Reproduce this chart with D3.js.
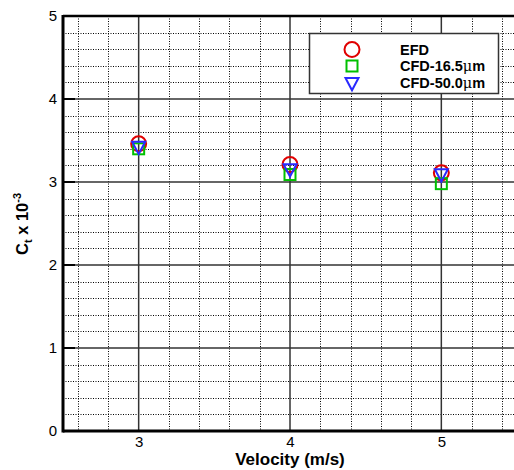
<!DOCTYPE html>
<html>
<head>
<meta charset="utf-8">
<script src="https://cdn.jsdelivr.net/npm/d3@7"></script>
<style>
  body { margin: 0; background: #fff; }
  svg { display: block; font-family: Arial, "Liberation Sans", sans-serif; }
</style>
</head>
<body>
<div id="chart"></div>
<script>
const velocity = [3, 4, 5]
const efd = [3.46, 3.21, 3.11]
const cfd165 = [3.40, 3.09, 2.98]
const cfd500 = [3.43, 3.16, 3.10]
const xTicks = [3, 4, 5]
const yTicks = [0, 1, 2, 3, 4, 5]
const seriesNames = ["EFD", "CFD-16.5", "CFD-50.0"]

const svg_width = 514, svg_height = 470
const margin = { left: 63, top: 16, right: -3, bottom: 39 }
const width = svg_width - margin.left - margin.right
const height = svg_height - margin.top - margin.bottom

const svg = d3.select("#chart").append("svg")
    .attr("width", svg_width)
    .attr("height", svg_height)

const g = svg.append("g")
    .attr("transform", "translate(" + margin.left + "," + margin.top + ")")

const xScale = d3.scaleLinear().domain([2.5, 5.5]).range([0, width])
const yScale = d3.scaleLinear().domain([0, 5]).range([height, 0])

// minor dotted grid
const xMinor = d3.range(2.6, 5.5, 0.2).filter(v => Math.abs(v - Math.round(v)) > 0.01)
const yMinor = d3.range(0.2, 5, 0.2).filter(v => Math.abs(v - Math.round(v)) > 0.01)

g.append("g").selectAll("line")
    .data(xMinor).enter().append("line")
    .attr("x1", d => Math.round(xScale(d)) + 0.5).attr("x2", d => Math.round(xScale(d)) + 0.5)
    .attr("y1", 0).attr("y2", height)
    .style("stroke", "#000").style("stroke-width", 1).style("stroke-dasharray", "1,1.5")
g.append("g").selectAll("line")
    .data(yMinor).enter().append("line")
    .attr("y1", d => Math.round(yScale(d)) + 0.5).attr("y2", d => Math.round(yScale(d)) + 0.5)
    .attr("x1", 0).attr("x2", width)
    .style("stroke", "#000").style("stroke-width", 1).style("stroke-dasharray", "1,1.5")

// major grid
g.append("g").selectAll("line")
    .data(xTicks).enter().append("line")
    .attr("x1", d => xScale(d)).attr("x2", d => xScale(d))
    .attr("y1", 0).attr("y2", height)
    .style("stroke", "#333").style("stroke-width", 1.5)
g.append("g").selectAll("line")
    .data(yTicks.filter(d => d > 0 && d < 5)).enter().append("line")
    .attr("y1", d => yScale(d)).attr("y2", d => yScale(d))
    .attr("x1", 0).attr("x2", width)
    .style("stroke", "#333").style("stroke-width", 1.5)

// inward tick marks on left axis
g.append("g").selectAll("line")
    .data(yTicks).enter().append("line")
    .attr("y1", d => yScale(d)).attr("y2", d => yScale(d))
    .attr("x1", 0).attr("x2", 12)
    .style("stroke", "#000").style("stroke-width", 2)

// frame
g.append("line").attr("x1", 0).attr("x2", width).attr("y1", 0).attr("y2", 0)
    .style("stroke", "#000").style("stroke-width", 2.5)
g.append("line").attr("x1", 0).attr("x2", width).attr("y1", height).attr("y2", height)
    .style("stroke", "#000").style("stroke-width", 3)
g.append("line").attr("x1", 0).attr("x2", 0).attr("y1", -1).attr("y2", height + 1.5)
    .style("stroke", "#000").style("stroke-width", 3)

// axes (labels only)
const xAxis = g.append("g")
    .attr("transform", "translate(0," + height + ")")
    .call(d3.axisBottom(xScale).tickValues(xTicks).tickSize(0).tickPadding(5).tickFormat(d3.format("d")))
xAxis.select(".domain").remove()
xAxis.selectAll("text").style("font-size", "15px").style("font-family", "Arial, 'Liberation Sans', sans-serif")

const yAxis = g.append("g")
    .call(d3.axisLeft(yScale).tickValues(yTicks).tickSize(0).tickPadding(6).tickFormat(d3.format("d")))
yAxis.select(".domain").remove()
yAxis.selectAll("text").style("font-size", "15px").style("font-family", "Arial, 'Liberation Sans', sans-serif")

// axis titles
svg.append("text")
    .attr("x", margin.left + xScale(4))
    .attr("y", 465)
    .attr("text-anchor", "middle")
    .style("font-size", "17px").style("font-weight", "bold")
    .text("Velocity (m/s)")

const yt = svg.append("text")
    .attr("text-anchor", "middle")
    .attr("transform", "translate(28," + 224 + ") rotate(-90)")
    .style("font-size", "16.5px").style("font-weight", "bold")
yt.append("tspan").text("C")
yt.append("tspan").attr("dy", 4).style("font-size", "11px").text("t")
yt.append("tspan").attr("dy", -4).text(" x 10")
yt.append("tspan").attr("dy", -7).style("font-size", "11px").text("-3")

// markers
const circleSym = (sel, r) => sel.append("circle").attr("r", r)
    .style("fill", "none").style("stroke", "#e00000").style("stroke-width", 2)
const squareSym = (sel, s) => sel.append("rect").attr("x", -s / 2).attr("y", -s / 2)
    .attr("width", s).attr("height", s)
    .style("fill", "none").style("stroke", "#00c000").style("stroke-width", 2)
const triSym = (sel, s) => sel.append("path")
    .attr("d", "M" + (-s / 2) + "," + (-s * 0.35) + "L" + (s / 2) + "," + (-s * 0.35) + "L0," + (s * 0.6) + "Z")
    .style("fill", "none").style("stroke", "#2a2aff").style("stroke-width", 2)

const pts = (vals) => velocity.map((v, i) => ({ x: v, y: vals[i] }))

g.append("g").selectAll("g").data(pts(efd)).enter().append("g")
    .attr("transform", d => "translate(" + xScale(d.x) + "," + yScale(d.y) + ")")
    .call(sel => circleSym(sel, 7.5))
g.append("g").selectAll("g").data(pts(cfd165)).enter().append("g")
    .attr("transform", d => "translate(" + xScale(d.x) + "," + yScale(d.y) + ")")
    .call(sel => squareSym(sel, 11))
g.append("g").selectAll("g").data(pts(cfd500)).enter().append("g")
    .attr("transform", d => "translate(" + xScale(d.x) + "," + yScale(d.y) + ")")
    .call(sel => triSym(sel, 13))

// legend
const legend = svg.append("g")
legend.append("rect")
    .attr("x", 309.5).attr("y", 33.5).attr("width", 189).attr("height", 60)
    .style("fill", "#fff").style("stroke", "#333").style("stroke-width", 1.5)

const legendRows = [
    { name: seriesNames[0], sym: sel => circleSym(sel, 7.5), y: 49.5 },
    { name: seriesNames[1], sym: sel => squareSym(sel, 11), y: 66 },
    { name: seriesNames[2], sym: sel => triSym(sel, 13), y: 82.5 }
]
legendRows.forEach(row => {
    legend.append("g").attr("transform", "translate(352," + row.y + ")").call(row.sym)
    const t = legend.append("text")
        .attr("x", 400).attr("y", row.y + 5)
        .style("font-size", "14.5px").style("font-weight", "bold")
    t.append("tspan").text(row.name)
    if (row.name !== "EFD") {
        t.append("tspan").style("font-weight", "normal").style("font-family", "'DejaVu Serif', serif").text("\u03bc")
        t.append("tspan").text("m")
    }
})
</script>
</body>
</html>
